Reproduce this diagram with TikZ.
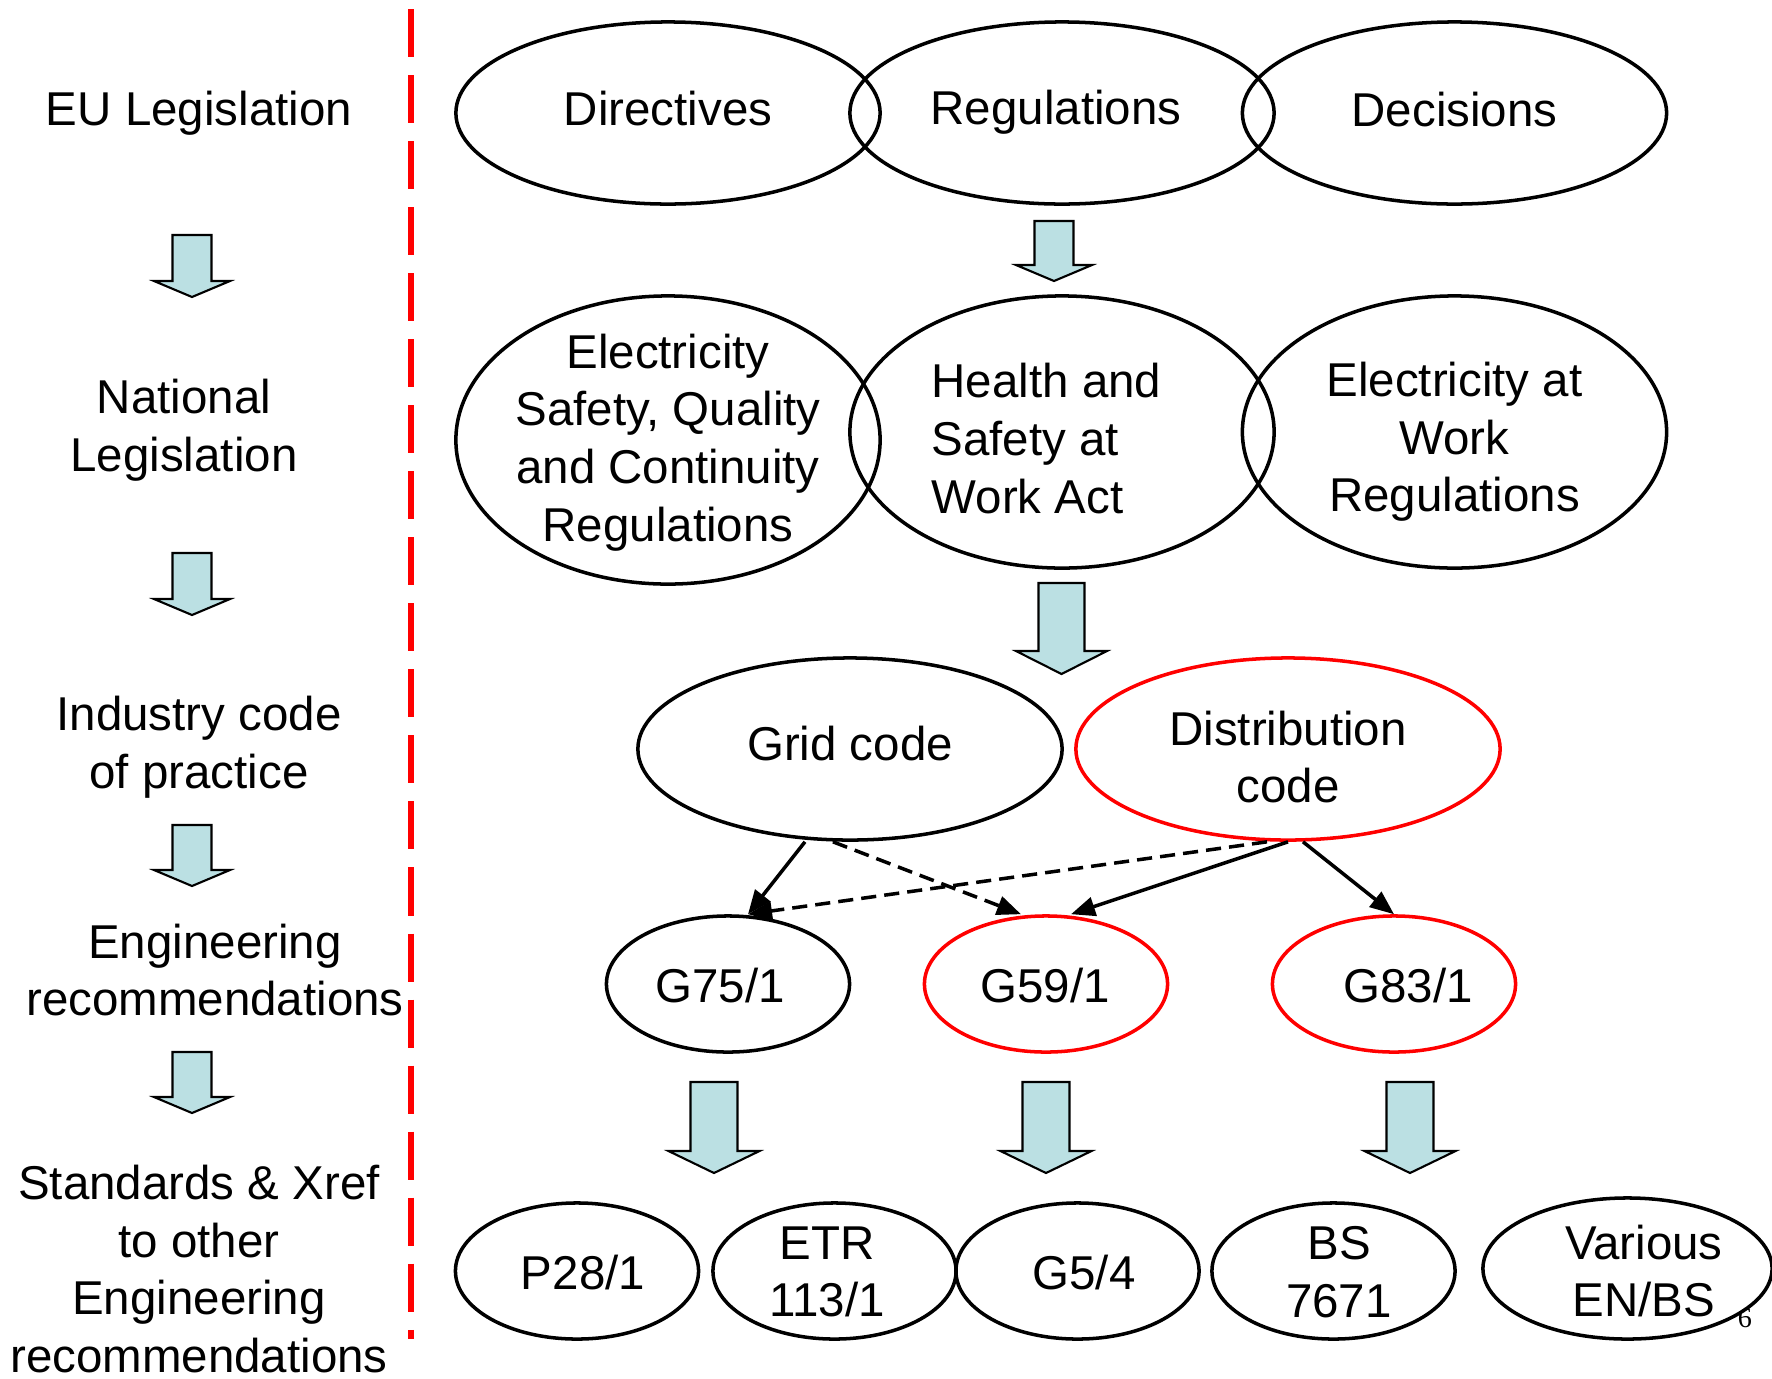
\documentclass[tikz,border=0pt]{standalone}
\usepackage{fontspec}
\setmainfont{Liberation Sans}
\newfontfamily\pagenumfont{Liberation Serif}
\usetikzlibrary{shapes.geometric,arrows.meta}
\definecolor{arrfill}{RGB}{187,224,227}
\definecolor{myred}{RGB}{255,0,0}
\newcommand\blockarr[6]{\draw[blk] ({#1-#3},#2) -- ({#1+#3},#2) -- ({#1+#3},#5) -- ({#1+#4},#5) -- (#1,#6) -- ({#1-#4},#5) -- ({#1-#3},#5) -- cycle;}
\begin{document}
\begin{tikzpicture}[x=0.01cm,y=-0.01cm,
  font=\fontsize{13.5}{16.4}\selectfont,
  ell/.style={draw, ellipse, line width=1pt, inner sep=0pt},
  bigell/.style={ell, minimum width=4.24cm, minimum height=1.82cm},
  smallell/.style={ell, minimum width=2.43cm, minimum height=1.36cm},
  redline/.style={draw=myred},
  txt/.style={align=center, inner sep=0pt},
  conn/.style={line width=1pt, -{Triangle[length=0.24cm,width=0.19cm]}},
  dconn/.style={conn, dash pattern=on 4.3pt off 2.3pt},
  blk/.style={draw, fill=arrfill, line width=0.6pt, line join=miter}
]
\useasboundingbox (0,0) rectangle (1772,1378);

% divider
\draw[myred, line width=0.06cm, dash pattern=on 0.48cm off 0.18cm] (411,9) -- (411,1339);

% left column labels
\node[txt] (l1) at (199,113.5) {EU Legislation};
\node[txt] (l2) at (184,430.5) {National\\Legislation};
\node[txt] (l3) at (199,747.5) {Industry code\\of practice};
\node[txt] (l4) at (215,970) {Engineering\\recommendations};
\node[txt] (l5) at (199,1269) {Standards \& Xref\\to other\\Engineering\\recommendations};

% left block arrows
\blockarr{192}{235}{19.5}{38}{281}{297}
\blockarr{192}{553}{19.5}{38}{599}{615}
\blockarr{192}{825}{19.5}{38}{870}{886}
\blockarr{192}{1052}{19.5}{38}{1097}{1113}

% row 1
\node[bigell] (dir) at (668,113) {};
\node[bigell] (reg) at (1062,113) {};
\node[bigell] (dec) at (1454.5,113) {};
\node[txt] (tdir) at (668,109) {Directives};
\node[txt] (treg) at (1056,112.5) {Regulations};
\node[txt] (tdec) at (1454.5,110) {Decisions};

\blockarr{1054}{221}{19.5}{38}{265}{281}

% row 2
\node[ell, minimum width=4.24cm, minimum height=2.88cm] (esq) at (668,440) {};
\node[ell, minimum width=4.24cm, minimum height=2.72cm] (hsw) at (1062,432) {};
\node[ell, minimum width=4.24cm, minimum height=2.72cm] (eaw) at (1454.5,432) {};
\node[txt] (tesq) at (668,442.5) {Electricity\\Safety, Quality\\and Continuity\\Regulations};
\node[txt, align=left, anchor=west] (thsw) at (931,438.5) {Health and\\Safety at\\Work Act};
\node[txt] (teaw) at (1454.5,442) {Electricity at\\Work\\Regulations};

\blockarr{1061.5}{583}{23}{45.5}{651}{674}

% row 3
\node[bigell] (grid) at (850,749) {};
\node[bigell, redline] (dist) at (1288,749) {};
\node[txt] (tgrid) at (850,744) {Grid code};
\node[txt] (tdist) at (1288,757) {Distribution\\code};

% row 4
\node[smallell] (g75) at (728,984) {};
\node[smallell, redline] (g59) at (1046,984) {};
\node[smallell, redline] (g83) at (1394,984) {};
\node[txt] (tg75) at (720,985.5) {G75/1};
\node[txt] (tg59) at (1045,985.5) {G59/1};
\node[txt] (tg83) at (1408,985.5) {G83/1};

% connectors
\draw[conn] ([xshift=-0.45cm]grid.south) -- ([xshift=0.2cm]g75.north);
\draw[dconn] ([xshift=-0.17cm]grid.south) -- ([xshift=-0.25cm]g59.north);
\draw[dconn] ([xshift=-0.21cm]dist.south) -- ([xshift=0.2cm]g75.north);
\draw[conn] (dist.south) -- ([xshift=0.25cm]g59.north);
\draw[conn] ([xshift=0.15cm]dist.south) -- (g83.north);

% bottom block arrows
\blockarr{714}{1082}{23.5}{45.5}{1151}{1173}
\blockarr{1046}{1082}{23.5}{45.5}{1151}{1173}
\blockarr{1410}{1082}{23.5}{45.5}{1151}{1173}

% row 5
\node[smallell] (p28) at (577,1271) {};
\node[smallell] (etr) at (834.5,1271) {};
\node[smallell] (g54) at (1077.5,1271) {};
\node[smallell] (bs) at (1333.5,1271) {};
\node[ell, minimum width=2.89cm, minimum height=1.41cm] (var) at (1627.5,1268.5) {};
\node[txt] (tp28) at (583,1272.5) {P28/1};
\node[txt] (tetr) at (827,1272) {ETR\\113/1};
\node[txt] (tg54) at (1084,1272.5) {G5/4};
\node[txt] (tbs) at (1339,1272) {BS\\7671};
\node[txt] (tvar) at (1644,1271) {Various\\EN/BS};

% page number
\node[inner sep=0pt, font=\pagenumfont\fontsize{8}{9}\selectfont] (pg) at (1745,1318) {6};
\end{tikzpicture}
\end{document}
